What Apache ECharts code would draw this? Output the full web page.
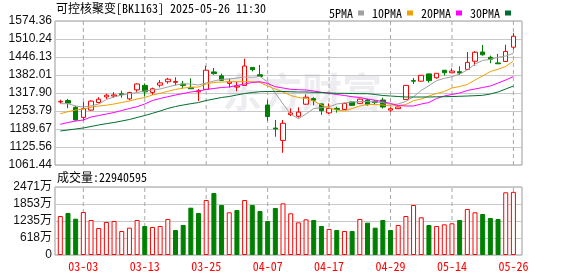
<!DOCTYPE html>
<html><head><meta charset="utf-8">
<script src="https://cdn.jsdelivr.net/npm/echarts@6/dist/echarts.min.js"></script>
<style>html,body{margin:0;padding:0;background:#fff}#c{width:578px;height:276px}</style>
</head><body><div id="c"></div>
<script>
const dates = ['02-26','02-27','02-28','03-03','03-04','03-05','03-06','03-07','03-10','03-11','03-12','03-13','03-14','03-17','03-18','03-19','03-20','03-21','03-24','03-25','03-26','03-27','03-28','03-31','04-01','04-02','04-03','04-07','04-08','04-09','04-10','04-11','04-14','04-15','04-16','04-17','04-18','04-21','04-22','04-23','04-24','04-25','04-28','04-29','04-30','05-06','05-07','05-08','05-09','05-12','05-13','05-14','05-15','05-16','05-19','05-20','05-21','05-22','05-23','05-26'];
// [open, close, low, high]
const candles = [
[1286,1288,1280,1294],[1291,1282,1264,1297],[1267,1222,1219,1272],[1231,1262,1220,1286],[1257,1289,1255,1292],
[1284,1296,1281,1303],[1304,1310,1297,1315],[1307,1311,1301,1321],[1315,1312,1301,1326],[1297,1320,1292,1322],
[1329,1350,1322,1352],[1345,1322,1305,1352],[1320,1333,1311,1337],[1346,1354,1338,1364],[1358,1367,1351,1372],
[1356,1359,1345,1374],[1350,1345,1333,1361],[1338,1333,1333,1370],[1322,1326,1289,1332],[1331,1399,1331,1415],
[1393,1387,1383,1407],[1379,1363,1361,1387],[1352,1357,1337,1369],[1339,1343,1324,1357],[1345,1414,1345,1440],
[1409,1401,1395,1409],[1383,1377,1375,1418],[1275,1234,1219,1293],[1193,1190,1162,1222],[1149,1210,1105,1222],
[1241,1247,1236,1263],[1235,1250,1230,1267],[1278,1303,1275,1313],[1298,1292,1274,1303],[1279,1255,1240,1281],
[1247,1263,1243,1281],[1263,1259,1248,1269],[1259,1281,1257,1283],[1286,1274,1273,1287],[1281,1296,1279,1298],
[1293,1276,1273,1297],[1287,1284,1278,1293],[1293,1268,1263,1301],[1257,1262,1251,1267],[1262,1268,1261,1269],
[1295,1345,1294,1346],[1362,1360,1350,1371],[1360,1381,1358,1382],[1386,1362,1355,1386],[1372,1388,1369,1388],
[1399,1390,1380,1399],[1390,1396,1390,1406],[1394,1389,1383,1413],[1402,1427,1402,1464],[1431,1463,1415,1467],
[1464,1454,1451,1489],[1445,1438,1424,1451],[1425,1422,1422,1457],[1430,1466,1429,1490],[1481,1520,1473,1532]];
const ma5 = [1279.8,1279.8,1271.6,1268.0,1271.6,1278.7,1294.8,1303.6,1310.8,1315.4,1319.7,1325.0,1328.6,1332.2,1339.3,1346.4,1350.0,1350.0,1346.4,1353.5,1360.6,1366.7,1367.8,1371.3,1374.9,1373.8,1376.7,1357.1,1317.9,1278.7,1243.1,1226.4,1243.1,1262.7,1265.5,1269.1,1278.7,1282.3,1285.8,1287.6,1287.6,1285.8,1284.1,1277.0,1278.7,1288,1305,1327,1344,1362,1370,1376,1385.6,1400,1421,1434,1438,1445,1449.7,1459];
const ma10 = [1244.2,1251.3,1257.3,1260.9,1266.9,1271.6,1274.4,1278.7,1284.0,1289.4,1296.5,1301.9,1310.8,1316.8,1324.0,1330.4,1335.7,1338.2,1339.3,1350.0,1355.3,1357.1,1358.2,1358.2,1358.2,1358.2,1355.3,1342.8,1332.2,1321.5,1309.0,1301.9,1298.3,1289.4,1275.2,1264.5,1257.3,1253.8,1262.7,1271.6,1276.9,1276.9,1275.2,1271.6,1273.4,1276.9,1290.5,1296.5,1307.2,1316.1,1323.3,1335.7,1341.1,1348.2,1364.2,1378.5,1394.5,1402.3,1412.3,1431.9];
const ma20 = [1206.4,1212.8,1218.2,1221.7,1232.4,1237.7,1243.1,1248.4,1255.6,1262.7,1269.1,1278.7,1291.2,1298.3,1304.7,1310.8,1316.1,1321.5,1325.0,1330.4,1334.0,1337.5,1339.3,1344.7,1350.0,1355.3,1358.2,1351.8,1340.4,1335.7,1331.1,1329.7,1328.6,1325.0,1320.4,1316.8,1312.6,1309.0,1304.7,1301.9,1296.5,1291.9,1287.6,1280.5,1273.4,1271.6,1271.6,1278.7,1284.0,1298.3,1307.2,1312.6,1317.9,1326.8,1332.2,1337.5,1342.8,1353.5,1364.2,1376.7];
const ma30 = [1182.6,1186.1,1189.7,1193.3,1198.6,1204.0,1208.6,1212.8,1218.2,1223.5,1230.6,1237.7,1245.6,1253.8,1262.7,1269.8,1275.2,1279.8,1284.0,1291.2,1296.5,1301.9,1305.4,1310.8,1316.1,1319.7,1322.5,1323.3,1323.3,1323.3,1322.5,1321.5,1321.5,1320.4,1319.7,1317.9,1316.8,1316.8,1316.1,1315.4,1315.4,1312.6,1309.0,1307.2,1305.4,1303.6,1303.6,1303.6,1303.6,1304.4,1304.7,1305.4,1306.2,1307.2,1308.3,1309.7,1314.3,1321.5,1332.2,1342.8];
// volume in 万
const volumes = [1417,1526,1320,1563,1272,981,1199,1236,872,993,1272,1054,1018,1054,1308,908,1090,1719,1526,1999,2253,1817,1551,1635,1999,1817,1599,1236,1708,1877,1515,1187,1296,1272,1054,945,908,872,872,1308,1175,993,1272,908,1090,1417,1817,1370,1090,1054,1115,1151,1272,1672,1551,1490,1345,1308,2278,2294.0595];
const volDir = [1,-1,-1,1,1,1,1,1,1,1, 1,-1,1,1,1,-1,-1,-1,-1,1, -1,-1,1,-1,1,-1,-1,-1,-1,1, 1,1,1,-1,-1,1,-1,1,-1,1, -1,-1,-1,-1,1,1,1,1,-1,1, 1,1,-1,1,1,-1,-1,-1,1,1];
const priceTicks = ['1061.44','1125.56','1189.67','1253.79','1317.90','1382.01','1446.13','1510.24','1574.36'];
const volTicks = ['0','618万','1235万','1853万','2471万'];
const labelDates = ['03-03','03-13','03-25','04-07','04-17','04-29','05-14','05-26'];
const maNames = ['5PMA','10PMA','20PMA','30PMA'];
const titleText = '可控核聚变[BK1163] 2025-05-26 11:30';
const volTitle = '成交量:22940595';

const RED = '#ff0000', GREEN = '#008000';
const FONT = '"Noto Sans Mono CJK SC","Noto Sans CJK SC",monospace';
const chart = echarts.init(document.getElementById('c'), null, {renderer:'canvas'});
const volData = volumes.map((v,i)=>({value:v, itemStyle: volDir[i]>0 ? {color:'#fff', borderColor:RED, borderWidth:1} : {color:GREEN, borderColor:GREEN, borderWidth:1}}));
const maColors = ['#a0a0a0','#f0a000','#ff00ff','#006e2e'];
const maData = [ma5, ma10, ma20, ma30];
const showLabel = (i, v) => labelDates.indexOf(v) >= 0;

const dataLeft = 60.3, dataWidth = 453.1;
// vertical dashed gridlines: a line series per label date spanning full y-range, behind the marks
const priceMin = 1061.44, priceMax = 1574.36, volMax = 2471;
const vGridStyle = {color:'#a8a8a8', type:[4,3], width:1};
const vGridPrice = labelDates.map(d => ({type:'line', xAxisIndex:1, yAxisIndex:1, z:1, silent:true, symbol:'none',
  data:[[d, priceMin], [d, priceMax]], lineStyle:vGridStyle, emphasis:{disabled:true}}));
const vGridVol = labelDates.map(d => ({type:'line', xAxisIndex:3, yAxisIndex:3, z:1, silent:true, symbol:'none',
  data:[[d, 0], [d, volMax]], lineStyle:vGridStyle, emphasis:{disabled:true}}));

chart.setOption({
  animation:false,
  backgroundColor:'#fff',
  grid:[
    {left:55, top:21, width:467, height:144, show:true, borderColor:'#999', borderWidth:1, backgroundColor:'transparent', outerBoundsMode:'none'},
    {left:dataLeft, top:21, width:dataWidth, height:144, outerBoundsMode:'none'},
    {left:55, top:187, width:467, height:68, show:true, borderColor:'#999', borderWidth:1, backgroundColor:'transparent', outerBoundsMode:'none'},
    {left:dataLeft, top:187, width:dataWidth, height:68, outerBoundsMode:'none'}
  ],
  xAxis:[
    {gridIndex:0, type:'value', min:0, max:1, show:false},
    {gridIndex:1, type:'category', data:dates, boundaryGap:false, axisLine:{show:false}, axisTick:{show:false}, axisLabel:{show:false}, splitLine:{show:false}},
    {gridIndex:2, type:'value', min:0, max:1, show:false},
    {gridIndex:3, type:'category', data:dates, boundaryGap:false, axisLine:{show:false}, axisTick:{show:false},
      axisLabel:{show:true, interval:showLabel, color:RED, fontSize:12, fontFamily:FONT, margin:5}, splitLine:{show:false}}
  ],
  yAxis:[
    {gridIndex:0, type:'value', min:0, max:8, interval:1, axisLine:{show:false}, axisTick:{show:false},
      axisLabel:{formatter:(v)=>priceTicks[Math.round(v)], color:'#111', fontSize:12, fontFamily:'"Liberation Sans",Arial,sans-serif', margin:3},
      splitLine:{show:true, lineStyle:{color:'#c8c8c8', width:1}}},
    {gridIndex:1, type:'value', min:priceMin, max:priceMax, show:false, splitLine:{show:false}},
    {gridIndex:2, type:'value', min:0, max:4, interval:1, axisLine:{show:false}, axisTick:{show:false},
      axisLabel:{formatter:(v)=>volTicks[Math.round(v)], color:'#111', fontSize:12, fontFamily:'"Liberation Sans","Noto Sans CJK SC",sans-serif', margin:3},
      splitLine:{show:true, lineStyle:{color:'#c8c8c8', width:1}}},
    {gridIndex:3, type:'value', min:0, max:volMax, show:false, splitLine:{show:false}}
  ],
  legend:{
    data:maNames, right:62, top:2, align:'right', icon:'rect', itemWidth:6, itemHeight:5, itemGap:8,
    textStyle:{color:'#000', fontSize:12, fontFamily:FONT, padding:[0,0,0,0]}
  },
  graphic:[
    {type:'text', left:56, top:2, z:10, style:{text:titleText, fill:'#000', font:'12px '+FONT}},
    {type:'text', left:57, top:171, z:10, style:{text:volTitle, fill:'#000', font:'12px '+FONT}},
    {type:'text', left:222, top:72, z:1, silent:true, style:{text:'东方财富', fill:'rgba(170,170,190,0.22)', font:'bold 40px "Noto Sans CJK SC"'}}
  ],
  series:[
    ...vGridPrice,
    ...vGridVol,
    {type:'candlestick', xAxisIndex:1, yAxisIndex:1, data:candles, barWidth:5, clip:false, z:3,
      itemStyle:{color:'#fff', color0:GREEN, borderColor:RED, borderColor0:GREEN, borderWidth:1}},
    ...maNames.map((n,k)=>({name:n, type:'line', xAxisIndex:1, yAxisIndex:1, data:maData[k], symbol:'none', clip:false, z:4,
      lineStyle:{color:maColors[k], width:1}, itemStyle:{color:maColors[k]}})),
    {type:'bar', xAxisIndex:3, yAxisIndex:3, data:volData, barWidth:5, z:3}
  ]
});
</script></body></html>
